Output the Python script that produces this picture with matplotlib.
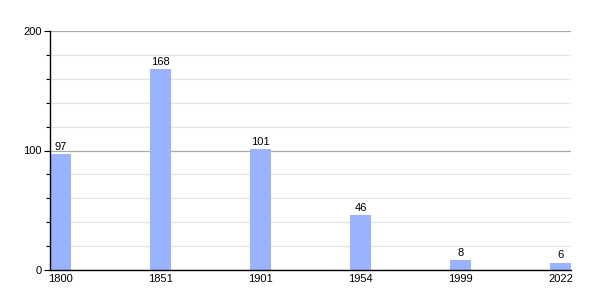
import matplotlib
matplotlib.use("Agg")
import matplotlib.pyplot as plt
from matplotlib.ticker import MultipleLocator

# données
years = ["1800", "1851", "1901", "1954", "1999", "2022"]
population = [97, 168, 101, 46, 8, 6]

plt.rcParams['font.family'] = ['Liberation Sans', 'DejaVu Sans']

fig = plt.figure(figsize=(6, 3), dpi=100)
ax = fig.add_axes([50 / 600, 30 / 300, 521 / 600, 239 / 300])

x = range(len(years))
w = 0.21
bars = ax.bar(x, population, width=w, color="#99b3ff", zorder=3)

for xi, v in zip(x, population):
    ax.text(xi, v + 2, str(v), ha="center", va="bottom", fontsize=8, zorder=4)

ax.set_xlim(-w / 2, len(years) - 1 + w / 2)
ax.set_ylim(0, 200)
ax.set_xticks(list(x))
ax.set_xticklabels(years, fontsize=8)
ax.tick_params(axis="x", length=0, pad=3)

ax.yaxis.set_major_locator(MultipleLocator(100))
ax.yaxis.set_minor_locator(MultipleLocator(20))
ax.tick_params(axis="y", which="major", length=4, width=0.8, labelsize=8, pad=2)
ax.tick_params(axis="y", which="minor", length=3, width=0.8)

ax.grid(axis="y", which="major", color="#a8a8a8", linewidth=0.9, zorder=1)
ax.grid(axis="y", which="minor", color="#e4e4e4", linewidth=0.9, zorder=1)

for s in ["top", "right"]:
    ax.spines[s].set_visible(False)
ax.spines["left"].set_linewidth(1.0)
ax.spines["bottom"].set_linewidth(1.0)
ax.spines["left"].set_zorder(5)
ax.spines["bottom"].set_zorder(5)

fig.savefig("out.png", dpi=100)
